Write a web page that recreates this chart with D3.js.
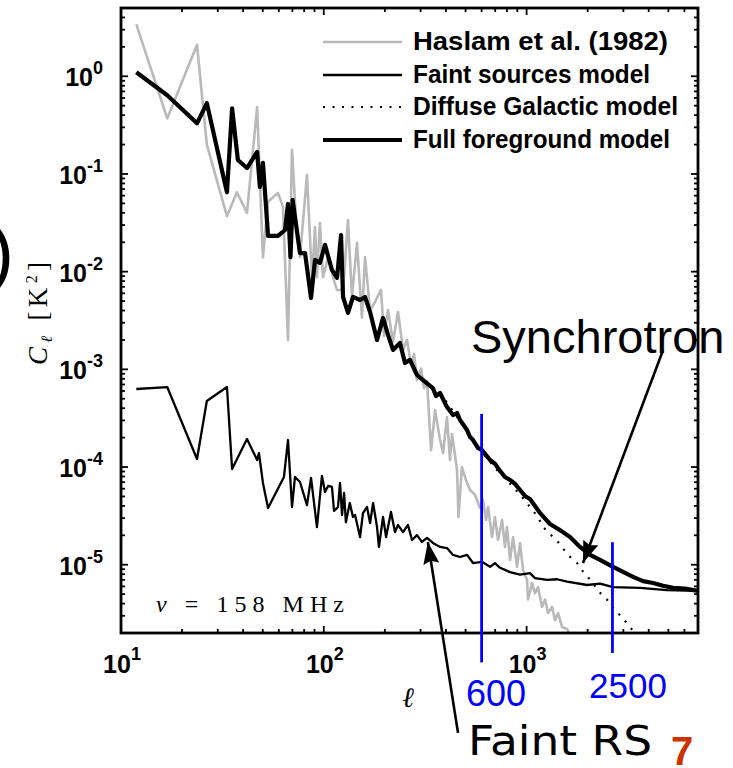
<!DOCTYPE html>
<html><head><meta charset="utf-8">
<script src="https://cdn.jsdelivr.net/npm/d3@7"></script>
<style>body{margin:0;background:#fff}svg{display:block}</style>
</head><body>
<svg id="c" width="733" height="768"></svg>
<script>
// ---- data: [multipole ell, C_ell in K^2] ----
const haslam = [[11.9,3.4],[16.9,0.37],[23.7,2.1],[26.5,0.20],[33.3,0.037],[37.3,0.065],[41.8,0.040],[46.9,0.485],[50.1,0.014],[53.1,0.052],[59.4,0.064],[62.9,0.046],[66.6,0.0020],[69.7,0.176],[73.8,0.0226],[76.3,0.0141],[82.6,0.098],[87.5,0.0082],[90.5,0.0287],[92.5,0.0088],[95.7,0.0315],[99.1,0.0088],[105,0.0141],[111,0.0088],[116,0.0065],[124.5,0.0065],[131.6,0.0338],[137.7,0.0055],[145.8,0.0197],[154.2,0.0034],[159.7,0.0141],[169.1,0.0040],[178.8,0.0049],[191.4,0.0065],[198.1,0.0022],[207.3,0.00405],[219.4,0.00191],[232.2,0.00386],[245.9,0.00158],[257.2,0.0020],[269.2,0.00111],[278.6,0.00144],[288.1,0.000777],[301.5,0.00102],[312,0.00064],[322.8,0.000755],[338,0.000149],[353.5,0.000383],[374.3,0.000189],[387.3,0.000139],[404.9,0.000325],[419,0.000118],[428.6,0.000218],[453.9,0.0000933],[461.4,0.0000308],[479.7,0.0001],[502.3,0.0000737],[526,0.0000582],[557,0.0000518],[589,0.0000381],[610,0.000046],[631,0.0000287],[646,0.000039],[675,0.0000192],[698,0.0000308],[723,0.0000179],[757,0.0000287],[782,0.0000152],[800,0.0000243],[829,0.0000112],[857,0.0000192],[897,0.0000095],[928,0.0000167],[960,0.0000088],[1005,0.000007],[1016,0.0000044],[1064,0.0000065],[1100,0.0000051],[1138,0.0000059],[1191,0.0000037],[1233,0.0000044],[1275,0.0000032],[1334,0.0000037],[1381,0.0000027],[1429,0.0000032],[1496,0.0000023],[1583,0.0000022],[1675,0.0000017]];

const faint = [[11.9,0.000629],[16.9,0.000659],[23.7,0.000121],[26.5,0.000474],[33.3,0.000659],[35.3,0.0000955],[41.8,0.000194],[46.9,0.000118],[47.9,0.000139],[50.1,0.0000687],[53.1,0.0000381],[63.6,0.0000791],[66.6,0.000189],[69.7,0.000039],[72.1,0.0000791],[76.3,0.0000703],[82.6,0.0000408],[86.5,0.0000773],[92.5,0.0000243],[97.9,0.000081],[101.4,0.0000556],[105,0.000064],[109.7,0.0000625],[112.3,0.0000355],[117.5,0.000039],[120.2,0.0000687],[123,0.0000323],[125.9,0.0000542],[128.5,0.0000272],[134.3,0.0000428],[139.3,0.0000308],[142.6,0.0000323],[150.9,0.0000192],[156,0.0000338],[163.3,0.000039],[169.1,0.0000267],[175,0.0000428],[183,0.0000243],[187,0.0000152],[195.9,0.0000308],[202.8,0.0000192],[214.4,0.0000347],[224.4,0.0000216],[232.2,0.0000255],[245.9,0.0000216],[260,0.0000255],[272.3,0.0000179],[288.1,0.0000201],[304.8,0.0000171],[322.8,0.0000188],[345.3,0.0000167],[374.3,0.0000152],[404.9,0.0000148],[433.6,0.0000126],[469.6,0.000012],[508.6,0.0000126],[544.4,0.0000104],[602.6,0.0000107],[660.4,0.0000095],[698,0.0000104],[739.8,0.0000093],[828.6,0.0000084],[928.1,0.0000079],[1039,0.0000082],[1100,0.0000073],[1262,0.000007],[1413,0.0000071],[1583,0.0000067],[1986,0.0000062],[2301,0.0000064],[2668,0.0000059],[3624,0.0000058],[4920,0.0000055],[7000,0.0000054]];

const diffuse = [[374.3,0.000573],[469.6,0.000296],[602.6,0.000143],[698,0.0000977],[800,0.0000737],[949,0.0000494],[1039,0.000039],[1138,0.0000308],[1205,0.0000243],[1429,0.0000171],[1600,0.0000126],[1774,0.0000104],[1919,0.0000082],[2103,0.0000067],[2250,0.0000054],[2490,0.0000044],[2698,0.0000035],[2953,0.0000029],[3236,0.0000023],[3624,0.0000017]];

const full = [[11.9,1.1],[16.9,0.64],[23.7,0.33],[26.5,0.53],[33.3,0.065],[35.3,0.47],[37.7,0.139],[41.8,0.115],[46.9,0.168],[48.4,0.0736],[50.1,0.13],[51,0.077],[53.1,0.0232],[59.4,0.0232],[64.4,0.0267],[66.6,0.0493],[68.5,0.0141],[70.2,0.0542],[76.3,0.0155],[80.8,0.0155],[86.5,0.00538],[90.5,0.0132],[95.7,0.0123],[101.4,0.0188],[109.7,0.0104],[116.2,0.00863],[121.6,0.0237],[124.4,0.00551],[131.6,0.00378],[139.3,0.00551],[150.9,0.00513],[159.7,0.00551],[169.1,0.00386],[183,0.0020],[195.9,0.00336],[207.3,0.00225],[219.4,0.00158],[237.5,0.00186],[251.3,0.00116],[266,0.00125],[288.1,0.000875],[308.5,0.000777],[345,0.000644],[357.3,0.000533],[374.3,0.000573],[404.9,0.000411],[433.6,0.00034],[453.9,0.000357],[469.6,0.000303],[508.6,0.000239],[526,0.000203],[544.4,0.000189],[575.5,0.000157],[602.6,0.000149],[660.4,0.000118],[698,0.000108],[739.8,0.0000912],[782,0.0000791],[828.6,0.0000737],[877,0.0000671],[928.1,0.0000582],[982,0.0000506],[1039,0.0000471],[1164,0.0000339],[1303,0.0000261],[1461,0.0000226],[1637,0.0000192],[1834,0.0000152],[2055,0.0000126],[2301,0.0000112],[2668,0.0000095],[3348,0.0000075],[3750,0.0000068],[4202,0.0000065],[4710,0.0000061],[5273,0.0000058],[6040,0.0000057],[7000,0.0000054]];

const seriesNames = ["Haslam et al. (1982)","Faint sources model","Diffuse Galactic model","Full foreground model"];
const xDomain = [10, 7000];
const yDomain = [2e-6, 5];
const xMajor = [10, 100, 1000];
const xMajorExp = ["1","2","3"];
const yMajor = [1, 0.1, 0.01, 1e-3, 1e-4, 1e-5];
const yMajorExp = ["0","-1","-2","-3","-4","-5"];
const markers = [{l:600, top:3.5e-4, bottom:1.0e-6, label:"600"},{l:2650, top:1.7e-5, bottom:1.25e-6, label:"2500"}];
const arrows = [{from:[4710,0.00158], to:[1897,1.04e-5]},{from:[459,1.9e-7], to:[326,1.71e-5]}];

// ---- layout ----
const L=121,R=698,T=8,B=633;
const x = d3.scaleLog().domain(xDomain).range([L,R]);
const y = d3.scaleLog().domain(yDomain).range([B,T]);
const svg = d3.select("#c");
const defs = svg.append("defs");
defs.append("clipPath").attr("id","clip").append("rect").attr("x",L).attr("y",T).attr("width",R-L).attr("height",B-T);
defs.append("marker").attr("id","ah").attr("markerUnits","userSpaceOnUse")
  .attr("markerWidth",24).attr("markerHeight",18).attr("refX",22).attr("refY",8)
  .attr("orient","auto").append("path").attr("d","M0,0 L22,8 L0,16 L3,8 Z").attr("fill","#000");

const line = d3.line().x(d=>x(d[0])).y(d=>y(d[1]));
const g = svg.append("g").attr("clip-path","url(#clip)");
g.append("path").datum(haslam).attr("d",line).attr("fill","none").attr("stroke","#b9b9b9").attr("stroke-width",2.6).attr("stroke-linejoin","round");
g.append("path").datum(faint).attr("d",line).attr("fill","none").attr("stroke","#000").attr("stroke-width",2.3).attr("stroke-linejoin","round");
g.append("path").datum(diffuse).attr("d",line).attr("fill","none").attr("stroke","#000").attr("stroke-width",2.2).attr("stroke-dasharray","2 7.5");
g.append("path").datum(full).attr("d",line).attr("fill","none").attr("stroke","#000").attr("stroke-width",4.2).attr("stroke-linejoin","round");

// frame
svg.append("rect").attr("x",L).attr("y",T).attr("width",R-L).attr("height",B-T).attr("fill","none").attr("stroke","#000").attr("stroke-width",2.8);

// ticks
function logTicks(dom){
  const out=[]; let d=Math.pow(10,Math.floor(Math.log10(dom[0])));
  for(;d<=dom[1];d*=10){ for(let k=1;k<=9;k++){ const v=d*k; if(v>=dom[0]*0.999 && v<=dom[1]*1.001) out.push({v, major:k===1}); } }
  return out;
}
const tk = svg.append("g").attr("stroke","#000").attr("stroke-width",1.8);
logTicks(xDomain).forEach(t=>{
  const len=t.major?7:4, px=x(t.v);
  tk.append("line").attr("x1",px).attr("x2",px).attr("y1",B).attr("y2",B-len);
  tk.append("line").attr("x1",px).attr("x2",px).attr("y1",T).attr("y2",T+len);
});
logTicks(yDomain).forEach(t=>{
  const len=t.major?7:4, py=y(t.v);
  tk.append("line").attr("y1",py).attr("y2",py).attr("x1",L).attr("x2",L+len);
  tk.append("line").attr("y1",py).attr("y2",py).attr("x1",R).attr("x2",R-len);
});

// tick labels
const font = "'Liberation Sans', Arial, Helvetica, sans-serif";
xMajor.forEach((v,i)=>{
  const t = svg.append("text").attr("x",x(v)+1).attr("y",673).attr("text-anchor","middle")
    .attr("font-family",font).attr("font-weight","bold").attr("font-size",25);
  t.append("tspan").text("10");
  t.append("tspan").attr("dy",-13).attr("font-size",18).text(xMajorExp[i]);
});
yMajor.forEach((v,i)=>{
  const t = svg.append("text").attr("x",103).attr("y",y(v)+10).attr("text-anchor","end")
    .attr("font-family",font).attr("font-weight","bold").attr("font-size",25);
  t.append("tspan").text("10");
  t.append("tspan").attr("dy",-12).attr("font-size",18).text(yMajorExp[i]);
});

// axis labels
svg.append("text").attr("x",408).attr("y",707).attr("text-anchor","middle")
  .attr("font-family","'DejaVu Serif', serif").attr("font-style","italic").attr("font-size",28).text("ℓ");
const yl = svg.append("text").attr("transform","translate(47,365) rotate(-90)").attr("x",0)
  .attr("font-family","'Liberation Serif', 'DejaVu Serif', serif").attr("font-size",27)
  .attr("textLength",103).attr("lengthAdjust","spacing");
yl.append("tspan").attr("font-style","italic").text("C");
yl.append("tspan").attr("font-family","'DejaVu Serif', serif").attr("font-style","italic").attr("font-size",16).attr("dy",5).text("ℓ");
yl.append("tspan").attr("dy",-5).text(" [K");
yl.append("tspan").attr("font-size",16).attr("dy",-10).text("2");
yl.append("tspan").attr("dy",10).text("]");

// nu label
const nu = svg.append("text").attr("x",156).attr("y",612).attr("font-family","'Liberation Serif', serif").attr("font-size",24)
  .attr("textLength",188).attr("lengthAdjust","spacing");
nu.append("tspan").attr("font-style","italic").text("ν");
nu.append("tspan").text(" = 158 MHz");

// legend
const legY = [42,75,107,140];
const legW = [255,237,265,257];
const legStyle = [
  {stroke:"#b9b9b9", w:2.6, dash:null},
  {stroke:"#000", w:2.3, dash:null},
  {stroke:"#000", w:2.2, dash:"2 7.5"},
  {stroke:"#000", w:4.2, dash:null}];
seriesNames.forEach((n,i)=>{
  svg.append("line").attr("x1",323).attr("x2",402).attr("y1",legY[i]).attr("y2",legY[i])
    .attr("stroke",legStyle[i].stroke).attr("stroke-width",legStyle[i].w).attr("stroke-dasharray",legStyle[i].dash);
  svg.append("text").attr("x",413).attr("y",legY[i]+8).attr("font-family",font).attr("font-weight","bold")
    .attr("font-size",26).attr("textLength",legW[i]).attr("lengthAdjust","spacingAndGlyphs").text(n);
});

// annotation markers (blue lines)
markers.forEach(m=>{
  svg.append("line").attr("x1",x(m.l)).attr("x2",x(m.l)).attr("y1",y(m.top)).attr("y2",y(m.bottom))
    .attr("stroke","#0000ff").attr("stroke-width",2.8);
});
svg.append("text").attr("x",466).attr("y",706).attr("font-family",font).attr("font-size",36).attr("fill","#0000ff").text(markers[0].label);
svg.append("text").attr("x",589).attr("y",698).attr("font-family",font).attr("font-size",35).attr("fill","#0000ff").text(markers[1].label);

// arrows
arrows.forEach(a=>{
  svg.append("line").attr("x1",x(a.from[0])).attr("y1",y(a.from[1])).attr("x2",x(a.to[0])).attr("y2",y(a.to[1]))
    .attr("stroke","#000").attr("stroke-width",2.6).attr("marker-end","url(#ah)");
});

// free text
svg.append("text").attr("x",471).attr("y",353).attr("font-family",font).attr("font-size",47).text("Synchrotron");
svg.append("text").attr("x",468).attr("y",755).attr("font-family","'DejaVu Sans', sans-serif").attr("font-size",40)
  .attr("textLength",184).attr("lengthAdjust","spacingAndGlyphs").text("Faint RS");
svg.append("text").attr("x",671).attr("y",765).attr("font-family",font).attr("font-weight","bold").attr("font-size",40).attr("fill","#cc3300").text("7");
svg.append("text").attr("x",-11).attr("y",278).attr("font-family",font).attr("font-size",75).text(")");
</script>
</body></html>
